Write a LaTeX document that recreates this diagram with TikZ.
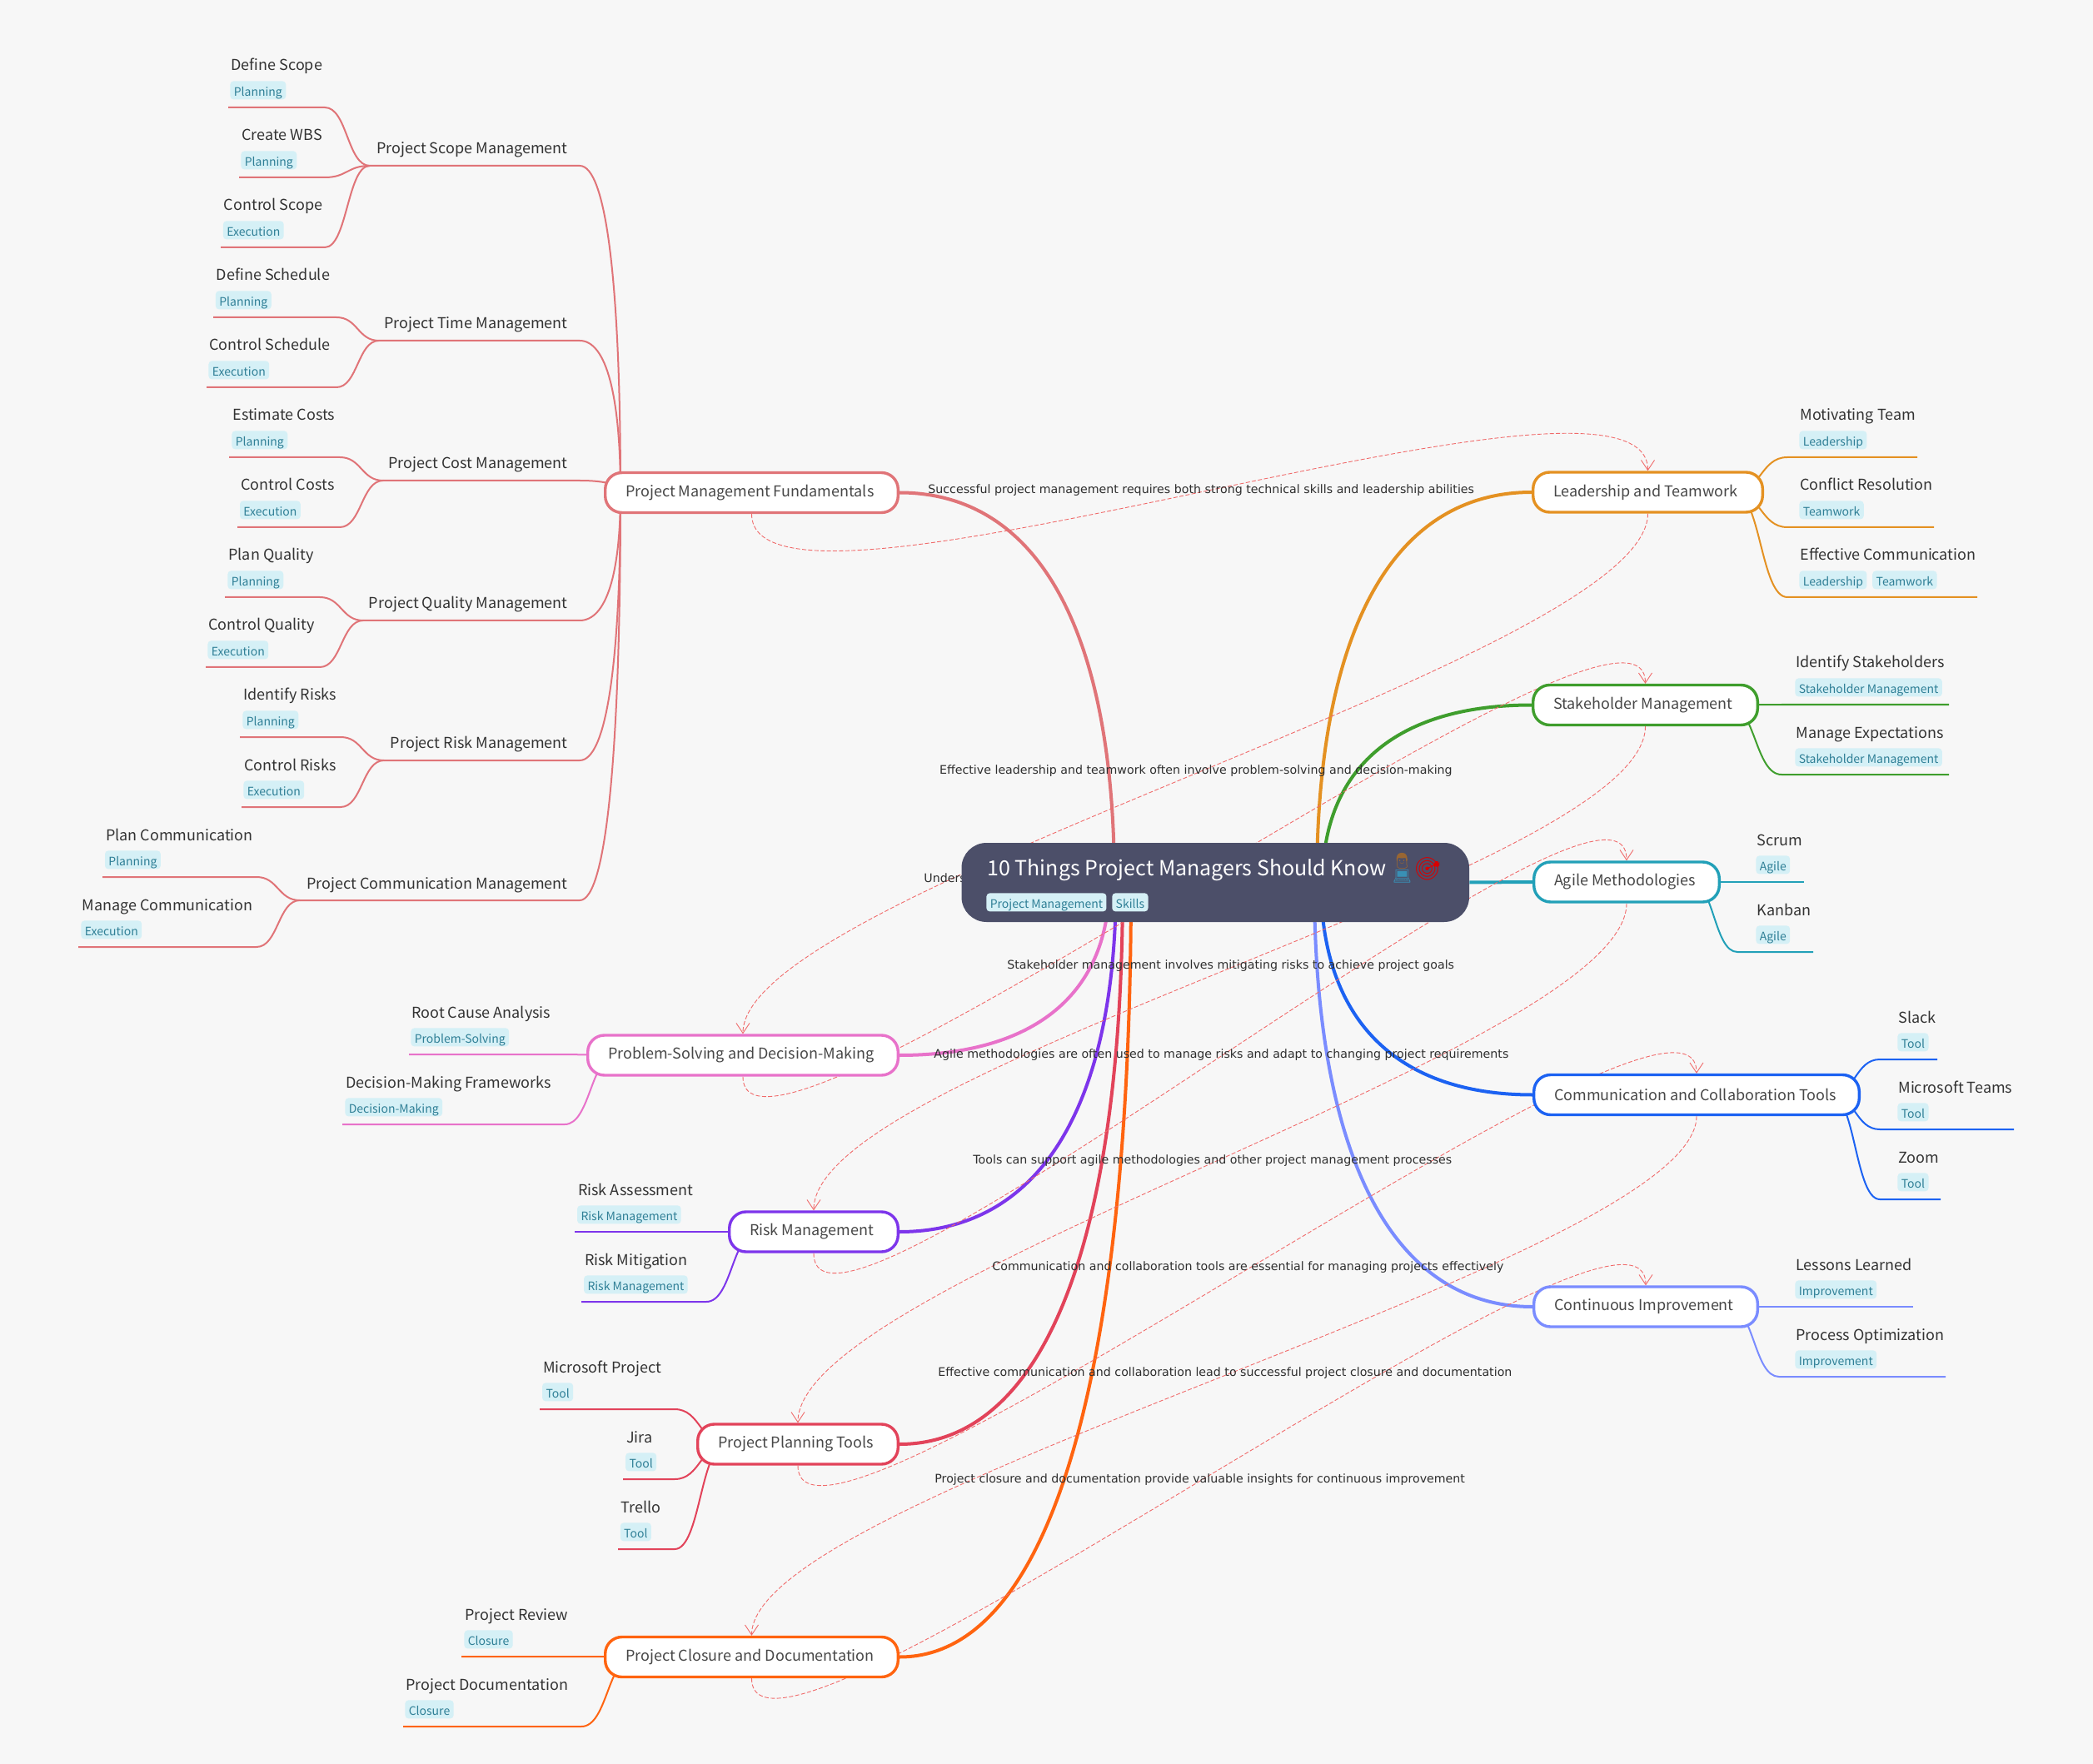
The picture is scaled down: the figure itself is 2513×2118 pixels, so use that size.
\documentclass[tikz,border=0pt]{standalone}
\usepackage{fontspec}
\setmainfont{Noto Sans CJK SC}
\newfontfamily\labelfont{DejaVu Sans}
\newfontfamily\emojifont{Noto Emoji}
\usetikzlibrary{arrows.meta,backgrounds,calc,positioning}

\definecolor{paper}{HTML}{F7F7F7}
\definecolor{rootfill}{HTML}{4C4F69}
\definecolor{tagfill}{HTML}{D5F0F6}
\definecolor{tagtext}{HTML}{2F7F96}
\definecolor{reltone}{HTML}{F06A6A}
\definecolor{cfund}{HTML}{E07478}
\definecolor{clead}{HTML}{E49122}
\definecolor{cstake}{HTML}{3F9E2D}
\definecolor{cagile}{HTML}{22A0B8}
\definecolor{ccomm}{HTML}{1C62F2}
\definecolor{cimpr}{HTML}{7A8CFF}
\definecolor{cprob}{HTML}{E872CA}
\definecolor{crisk}{HTML}{7D35EB}
\definecolor{ctool}{HTML}{E2435A}
\definecolor{cclos}{HTML}{FF6410}

\tikzset{
	sbend/.style={to path={let \p1=(\tikztostart),\p2=(\tikztotarget) in
		.. controls ({.5*\x1+.5*\x2},\y1) and ({.5*\x1+.5*\x2},\y2) .. (\tikztotarget)}},
	qbend/.style={to path={let \p1=(\tikztostart),\p2=(\tikztotarget) in
		.. controls ({\x1+.65*(\x2-\x1)},\y1) and (\x2,{\y1+.36*(\y2-\y1)}) .. (\tikztotarget)}},
	branch/.style={draw,fill=white,line width=1.7pt,rounded corners=10pt,minimum height=24pt,
		inner sep=0pt,align=flush left,text=black!72,font=\fontsize{9}{11}\selectfont},
	leaf/.style={inner sep=0pt,text=black!80,font=\fontsize{9}{11}\selectfont},
	tagbox/.style={fill=tagfill,text=tagtext,rounded corners=2pt,inner xsep=2.2pt,inner ysep=1.5pt,
		text height=7.5pt,text depth=.5pt,font=\fontsize{7}{9}\selectfont},
	leafline/.style={line width=1pt},
	mainline/.style={line width=2pt},
	relline/.style={reltone,line width=.45pt,dash pattern=on 2.5pt off 1.2pt,
		-{Straight Barb[length=6pt,width=8pt,line width=.45pt]}},
	rellabel/.style={anchor=west,inner sep=0pt,text=black!82,font=\labelfont\fontsize{7.1}{9}\selectfont},
}

\begin{document}
\begin{tikzpicture}[x=0.5pt,y=-0.5pt]
	\useasboundingbox (0,0) rectangle (2513,2118);
	\begin{scope}[on background layer]
		\fill[paper] (0,0) rectangle (2513,2118);
	\end{scope}

	\node[fill=rootfill,rounded corners=15pt,minimum width=304.75pt,minimum height=47.5pt,inner sep=0pt] (root) at (1459.25,1059.5) {};
	\node[anchor=base west,inner sep=0pt,text=white,font=\fontsize{12.5}{15}\selectfont] (root-title) at (1185,1051) {10 Things Project Managers Should Know};
	\node[inner sep=0pt,text=brown!80!black,font=\emojifont\fontsize{9.5}{11}\selectfont] (root-man) at (1683.5,1034) {👨};
	\node[inner sep=0pt,text=cyan!70!black,font=\emojifont\fontsize{9}{11}\selectfont] (root-laptop) at (1683.5,1052) {💻};
	\node[inner sep=0pt,text=red!85!black,font=\emojifont\fontsize{13.5}{16}\selectfont] (root-dart) at (1714.5,1043) {🎯};
	\node[tagbox,anchor=north west] (root-tag) at (1184,1072) {Project Management};
	\node[tagbox,right=3pt of root-tag] (root-tag2) {Skills};

	\foreach \nm/\xa/\xb/\yy/\col/\txt in {
		pmf/725/1080/591.5/cfund/Project Management Fundamentals,
		lead/1839/2118/591/clead/Leadership and Teamwork,
		stake/1839/2112/846.5/cstake/Stakeholder Management,
		agile/1840/2066/1059/cagile/Agile Methodologies,
		comm/1840/2234/1314.5/ccomm/Communication and Collaboration Tools,
		impr/1840/2112/1569/cimpr/Continuous Improvement,
		prob/704/1080/1267/cprob/Problem-Solving and Decision-Making,
		risk/874/1080/1479/crisk/Risk Management,
		tool/836/1080/1734/ctool/Project Planning Tools,
		clos/725/1080/1989.5/cclos/Project Closure and Documentation}
		\node[branch,draw=\col,minimum width={(\xb-\xa)*0.5pt-1.7pt},text width={(\xb-\xa)*0.5pt-26pt}] (\nm) at ({(\xa+\xb)/2},\yy) {\mbox{\txt}};

	\foreach \nm/\sh in {pmf/10,prob/18,risk/18,tool/18,clos/18,lead/-18,stake/-18,agile/-18,comm/-18,impr/-18}
		\coordinate (\nm-j) at ([xshift=\sh pt]\nm.\ifnum\sh<0 east\else west\fi);

	\foreach \nm/\jx/\yy/\txt in {
		pscope/444/199/Project Scope Management,
		ptime/455/409/Project Time Management,
		pcost/460/577/Project Cost Management,
		pqual/436/745/Project Quality Management,
		prisk/461/913/Project Risk Management,
		pcomm/360/1081/Project Communication Management}{
		\node[leaf,anchor=base east] (\nm) at (682,\yy-14) {\txt};
		\coordinate (\nm-j) at (\jx,\yy);
		\coordinate (\nm-e) at (696,\yy);
	}

	\foreach \nm/\xt/\yy/\xa/\xb/\txt/\tg in {
		scopea/277/129/274/390/Define Scope/Planning,
		scopeb/290/213/287/390/Create WBS/Planning,
		scopec/268.5/297/265/390/Control Scope/Execution,
		timea/259.5/381/256/404/Define Schedule/Planning,
		timeb/251/465/248/404/Control Schedule/Execution,
		costa/279/549/275/408/Estimate Costs/Planning,
		costb/288.6/633/285/408/Control Costs/Execution,
		quala/274/717/270/384/Plan Quality/Planning,
		qualb/250/801/247/384/Control Quality/Execution,
		riska/292/885/288/409/Identify Risks/Planning,
		riskb/293/969/290/409/Control Risks/Execution,
		coma/126.6/1053/123/308/Plan Communication/Planning,
		comb/98/1137/94/308/Manage Communication/Execution,
		proba/494/1266/491/678/Root Cause Analysis/Problem-Solving,
		probb/415/1350/411/678/Decision-Making Frameworks/Decision-Making,
		rma/693.7/1479/690/848/Risk Assessment/Risk Management,
		rmb/701.7/1563/698/848/Risk Mitigation/Risk Management,
		toola/651.7/1692/648/810/Microsoft Project/Tool,
		toolb/751.7/1776/748/810/Jira/Tool,
		toolc/745.4/1860/742/810/Trello/Tool,
		closa/558/1989/554/698/Project Review/Closure,
		closb/487/2073/484/698/Project Documentation/Closure,
		leada/2161/549/2302/2146/Motivating Team/Leadership,
		leadb/2161/633/2322/2146/Conflict Resolution/Teamwork,
		leadc/2161/717/2374/2146/Effective Communication/Leadership,
		stakea/2156/846/2340/2139/Identify Stakeholders/Stakeholder Management,
		stakeb/2156/930/2340/2139/Manage Expectations/Stakeholder Management,
		agilea/2109/1059/2166/2086/Scrum/Agile,
		agileb/2109/1143/2177/2086/Kanban/Agile,
		comma/2279/1272/2326/2257/Slack/Tool,
		commb/2279/1356/2418/2257/Microsoft Teams/Tool,
		commc/2279/1440/2330/2257/Zoom/Tool,
		impra/2156/1569/2297/2136/Lessons Learned/Improvement,
		imprb/2156/1653/2336/2136/Process Optimization/Improvement}{
		\node[leaf,anchor=base west] (\nm) at (\xt,\yy-44) {\txt};
		\node[tagbox,anchor=north west] (\nm-t) at (\xt-1,\yy-32) {\tg};
		\coordinate (\nm-a) at (\xa,\yy);
		\coordinate (\nm-b) at (\xb,\yy);
	}
	\node[tagbox,right=3pt of leadc-t] (leadc-t2) {Teamwork};

	\foreach \nm/\xx in {pmf/1338,lead/1581,stake/1588,impr/1578,comm/1586,prob/1332,risk/1340,tool/1348,clos/1358}
		\coordinate (root-\nm) at (\xx,1059);

	\begin{scope}[on background layer]
		\foreach \a/\b/\col in {pmf/east/cfund,lead/west/clead,stake/west/cstake,impr/west/cimpr,comm/west/ccomm,prob/east/cprob,risk/east/crisk,tool/east/ctool,clos/east/cclos}
			\draw[mainline,\col] (\a.\b) to[qbend] (root-\a);
		\draw[mainline,cagile] (agile.west) -- (root.east);

		\foreach \nm in {pscope,ptime,pcost,pqual,prisk,pcomm}
			\draw[leafline,cfund] (\nm-j) -- (\nm-e) to[qbend] (pmf-j);

		\foreach \nm/\tgt/\col in {
			scopea/pscope/cfund,scopeb/pscope/cfund,scopec/pscope/cfund,
			timea/ptime/cfund,timeb/ptime/cfund,
			costa/pcost/cfund,costb/pcost/cfund,
			quala/pqual/cfund,qualb/pqual/cfund,
			riska/prisk/cfund,riskb/prisk/cfund,
			coma/pcomm/cfund,comb/pcomm/cfund,
			proba/prob/cprob,probb/prob/cprob,
			rma/risk/crisk,rmb/risk/crisk,
			toola/tool/ctool,toolb/tool/ctool,toolc/tool/ctool,
			closa/clos/cclos,closb/clos/cclos,
			leada/lead/clead,leadb/lead/clead,leadc/lead/clead,
			stakea/stake/cstake,stakeb/stake/cstake,
			agilea/agile/cagile,agileb/agile/cagile,
			comma/comm/ccomm,commb/comm/ccomm,commc/comm/ccomm,
			impra/impr/cimpr,imprb/impr/cimpr}
			\draw[leafline,\col] (\nm-a) -- (\nm-b) to[sbend] (\tgt-j);

		\foreach \a/\b in {pmf/lead,lead/prob,prob/stake,stake/risk,risk/agile,agile/tool,tool/comm,comm/clos,clos/impr}
			\draw[relline] (\a.south) .. controls +(0,172) and +(0,-172) .. (\b.north);

		\foreach \nm/\xx/\yy/\txt in {
			rela/1114/589/Successful project management requires both strong technical skills and leadership abilities,
			relb/1127.7/926/Effective leadership and teamwork often involve problem-solving and decision-making,
			relc/1109/1054/Unders,
			reld/1209/1160/Stakeholder management involves mitigating risks to achieve project goals,
			rele/1121/1267/Agile methodologies are often used to manage risks and adapt to changing project requirements,
			relf/1168/1394/Tools can support agile methodologies and other project management processes,
			relg/1191/1522/Communication and collaboration tools are essential for managing projects effectively,
			relh/1126/1649/Effective communication and collaboration lead to successful project closure and documentation,
			reli/1122/1777/Project closure and documentation provide valuable insights for continuous improvement}
			\node[rellabel] (\nm) at (\xx,\yy) {\txt};
	\end{scope}
\end{tikzpicture}
\end{document}
